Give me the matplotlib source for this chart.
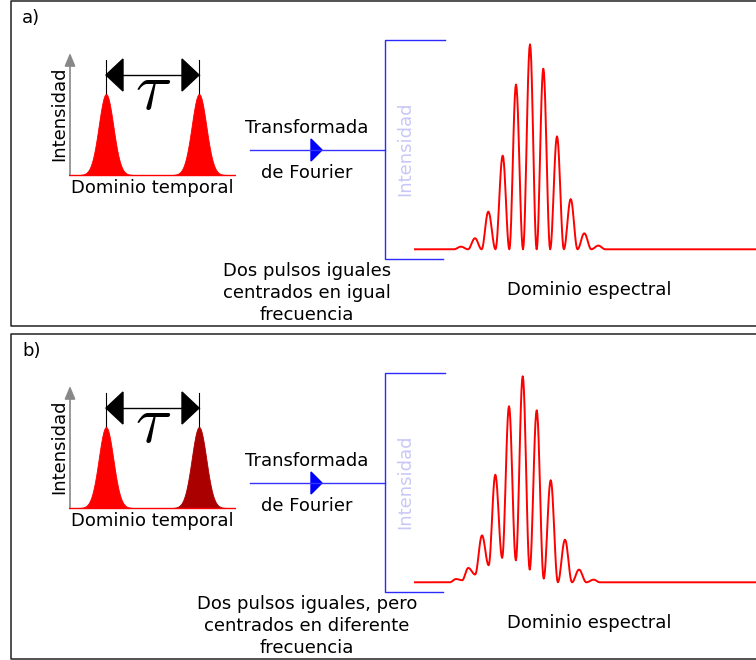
import numpy as np
import matplotlib.pyplot as plt
from matplotlib.patches import Polygon

plt.rcParams.update({'font.size': 13, 'mathtext.fontset': 'cm'})

W, H = 756, 660

# time domain: two pulses (time units ~ pixels of the sketch)
pulse_centers = [37, 130]
pulse_sigma = 7.3
pulse_height = 1.0
pulse_colors_a = ['#ff0000', '#ff0000']
pulse_colors_b = ['#ff0000', '#aa0000']

# spectral fringes, panel a (same centre frequency)
peaks_x_a = [47, 61, 74.3, 88.7, 102, 116, 129.3, 143, 156.7, 170.3, 184.3]
peaks_y_a = [0.013, 0.054, 0.184, 0.457, 0.804, 1.0, 0.881, 0.551, 0.245, 0.078, 0.018]
troughs_y_a = [0, 0, 0, 0, 0, 0, 0, 0, 0, 0]

# spectral fringes, panel b (different centre frequency)
peaks_x_b = [42, 54.3, 68, 81.3, 95, 108.7, 122.7, 136.7, 151, 165, 179.7]
peaks_y_b = [0.016, 0.070, 0.229, 0.525, 0.859, 1.005, 0.839, 0.498, 0.208, 0.062, 0.013]
troughs_y_b = [0.010, 0.038, 0.083, 0.119, 0.107, 0.062, 0.018, 0, 0, 0]

captions = ['Dos pulsos iguales\ncentrados en igual\nfrecuencia',
            'Dos pulsos iguales, pero\ncentrados en diferente\nfrecuencia']
labels = ['a)', 'b)']


def px_box(x0, y0, x1, y1):
    return [x0 / W, 1 - y1 / H, (x1 - x0) / W, (y1 - y0) / H]


def fringe_curve(px, py, ty, x_end=346, n=12):
    """Join the read extrema with half-cosine segments."""
    half = (px[1] - px[0]) / 2
    xs = [0, px[0] - half]
    ys = [0, 0]
    for i in range(len(px)):
        xs.append(px[i]); ys.append(py[i])
        if i < len(px) - 1:
            xs.append((px[i] + px[i + 1]) / 2); ys.append(ty[i])
    xs += [px[-1] + half, x_end]
    ys += [0, 0]
    X, Y = [], []
    for i in range(len(xs) - 1):
        s = np.linspace(0, 1, n)
        X.append(xs[i] + (xs[i + 1] - xs[i]) * s)
        Y.append(ys[i] + (ys[i + 1] - ys[i]) * (1 - np.cos(np.pi * s)) / 2)
    return np.concatenate(X), np.concatenate(Y)


fig = plt.figure(figsize=(W / 100, H / 100), dpi=100)
ax = fig.add_axes([0, 0, 1, 1])
ax.set_xlim(0, W)
ax.set_ylim(H, 0)
ax.axis('off')

panels = [
    (0, pulse_colors_a, peaks_x_a, peaks_y_a, troughs_y_a),
    (333, pulse_colors_b, peaks_x_b, peaks_y_b, troughs_y_b),
]

for k, (dy, pcols, fx, fy, ty) in enumerate(panels):
    # panel frame
    top, bot = 1 + dy, 326 + dy
    ax.plot([W + 5, 10.5, 10.5, W + 5], [top, top, bot, bot], color='#222222', lw=1.1)
    ax.text(22, 18 + dy, labels[k], ha='left', va='center')

    # time domain
    axt = fig.add_axes(px_box(69, 53 + dy, 236, 181 + dy))
    axt.set_facecolor('none')
    axt.axis('off')
    t = np.linspace(0, 166, 600)
    axt.plot([0, 166], [0, 0], color='#ff0000', lw=1.0)
    for c, col in zip(pulse_centers, pcols):
        g = pulse_height * np.exp(-(t - c) ** 2 / (2 * pulse_sigma ** 2))
        axt.fill_between(t, 0, g, color=col, lw=0.6)
    axt.set_xlim(0, 167)
    axt.set_ylim(-6 / 81, 122 / 81)

    ax.annotate('', xy=(70, 53 + dy), xytext=(70, 175 + dy),
                arrowprops=dict(arrowstyle='-|>,head_length=0.6,head_width=0.25',
                                color='#888888', lw=1.2, shrinkA=0, shrinkB=0))
    ax.text(59.5, 114 + dy, 'Intensidad', rotation=90, ha='center', va='center')
    ax.text(152, 188 + dy, 'Dominio temporal', ha='center', va='center')

    # tau marker
    x1, x2, ya = 106, 199, 75 + dy
    ax.plot([x1, x1], [60 + dy, 94 + dy], color='black', lw=0.8)
    ax.plot([x2, x2], [60 + dy, 94 + dy], color='black', lw=0.8)
    ax.plot([x1, x2], [ya, ya], color='black', lw=1.0)
    ax.add_patch(Polygon([(x1, ya), (x1 + 17, ya - 16), (x1 + 17, ya + 16)], color='black'))
    ax.add_patch(Polygon([(x2, ya), (x2 - 17, ya - 16), (x2 - 17, ya + 16)], color='black'))
    ax.text(153, 90 + dy, r'$\tau$', fontsize=48, ha='center', va='center')

    # Fourier transform arrow
    yf = 150 + dy
    ax.plot([250, 385], [yf, yf], color='#3333ff', lw=1.0)
    ax.add_patch(Polygon([(322, yf), (311, yf - 11), (311, yf + 11)], color='#0000ff'))
    ax.text(307, 128 + dy, 'Transformada', ha='center', va='center')
    ax.text(307, 173 + dy, 'de Fourier', ha='center', va='center')

    # bracket of the spectral axis
    ax.plot([445, 385, 385, 443], [40 + dy, 40 + dy, 259 + dy, 259 + dy],
            color='#2a2aff', lw=1.0)
    ax.text(405, 149 + dy, 'Intensidad', rotation=90, ha='center', va='center',
            color='#c8c8f8')

    ax.text(307, 293 + dy, captions[k], ha='center', va='center', linespacing=1.26)
    ax.text(589, 290 + dy, 'Dominio espectral', ha='center', va='center')

    # spectral domain
    base = 249.3 + dy
    axs = fig.add_axes(px_box(414, base - 220, 760, base + 10))
    axs.set_facecolor('none')
    axs.axis('off')
    fxx, fyy = fringe_curve(fx, fy, ty)
    axs.plot(fxx, fyy, color='#ff0000', lw=1.4)
    axs.set_xlim(0, 346)
    axs.set_ylim(-10 / 205, 220 / 205)

fig.savefig('out.png', dpi=100)
